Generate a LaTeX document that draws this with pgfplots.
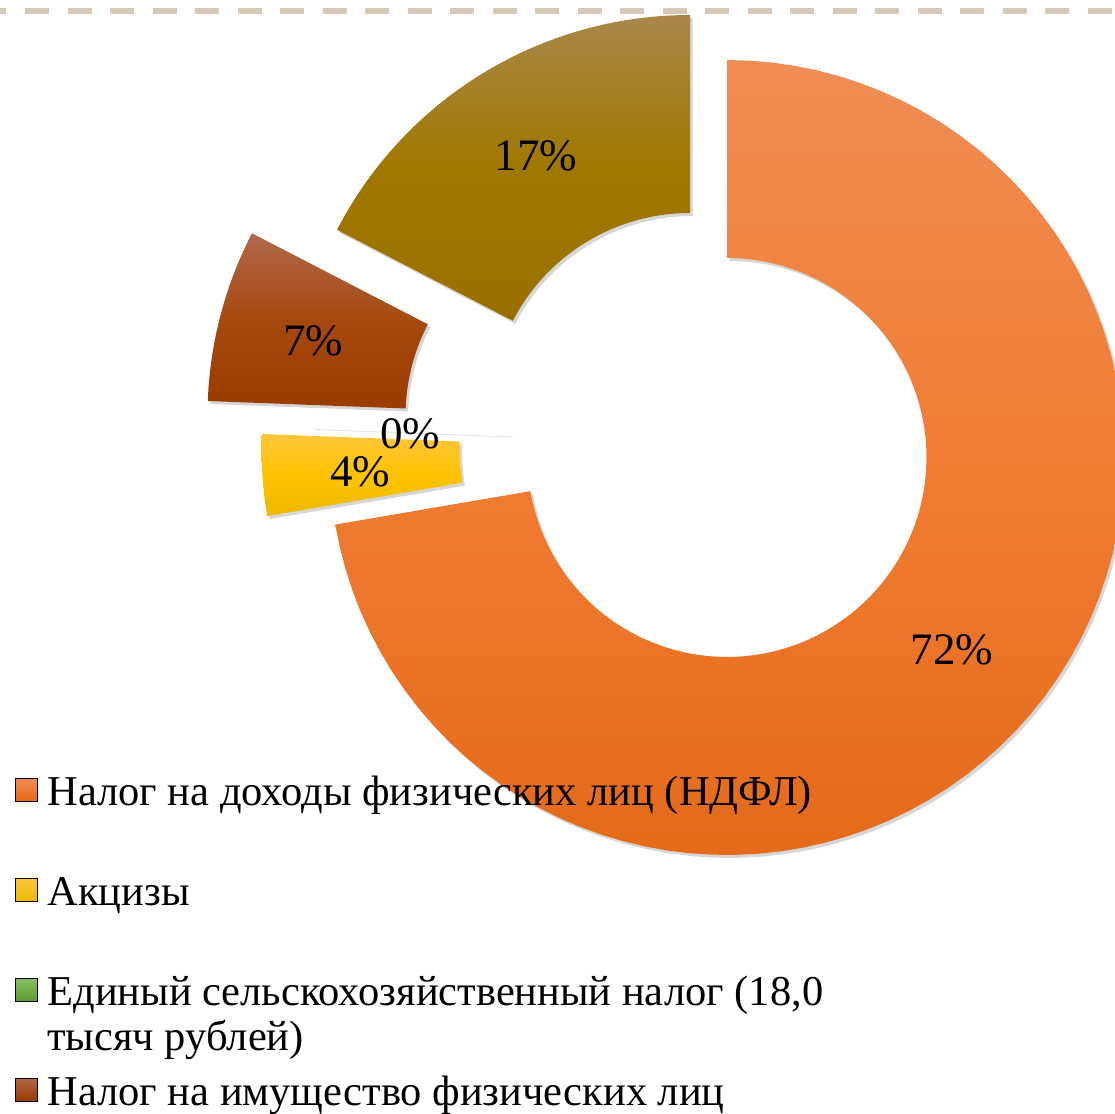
\documentclass[border=0pt]{standalone}
\usepackage{pgfplots}
\pgfplotsset{compat=1.18}
\usepackage{fontspec}
\setmainfont{Liberation Serif}
\newfontfamily\tnr{Liberation Serif}

\definecolor{ndA}{HTML}{F08C55}\definecolor{ndM}{HTML}{F07D33}\definecolor{ndB}{HTML}{E56A1A}
\definecolor{akA}{HTML}{FFC63C}\definecolor{akM}{HTML}{FDC300}\definecolor{akB}{HTML}{EDBA00}
\definecolor{imA}{HTML}{B1684C}\definecolor{imM}{HTML}{A6490F}\definecolor{imB}{HTML}{9A3B00}
\definecolor{zmA}{HTML}{A9874A}\definecolor{zmM}{HTML}{A07800}\definecolor{zmB}{HTML}{997000}
\definecolor{grA}{HTML}{8CC063}\definecolor{grB}{HTML}{5A9C2E}
\definecolor{zeroline}{HTML}{E3E9DC}
\definecolor{dashcol}{HTML}{D8C8B7}

\def\Ro{397.5}
\def\Ri{199.5}
% #1 vertex x, #2 vertex y, #3 cumulative start (%), #4 value (%), #5 style
\newcommand{\donutslice}[5]{%
  \addplot[forget plot, #5, domain=0:3, samples=241, variable=\t]
  ({#1 + ((\t<1) ? \Ro : ((\t<2) ? (\Ro-(\Ro-\Ri)*(\t-1)) : \Ri))*cos(90-3.6*((#3)+(#4)*((\t<1) ? \t : ((\t<2) ? 1 : (3-\t)))))},
   {#2 + ((\t<1) ? \Ro : ((\t<2) ? (\Ro-(\Ro-\Ri)*(\t-1)) : \Ri))*sin(90-3.6*((#3)+(#4)*((\t<1) ? \t : ((\t<2) ? 1 : (3-\t)))))});
}
\newcommand{\legsq}[2]{\addlegendimage{legend image code/.code={\path[top color=#1,bottom color=#2] (0pt,4pt) rectangle (22pt,27pt);}}}

\begin{document}
\tnr
\begin{tikzpicture}
\useasboundingbox (0,0) rectangle (1115pt,1113pt);
\clip (0,0) rectangle (1115pt,1113pt);
\begin{axis}[
  at={(0,0)}, anchor=south west,
  scale only axis, width=1115pt, height=1113pt,
  xmin=0, xmax=1115, ymin=0, ymax=1113,
  hide axis, clip=true,
  legend style={at={(axis cs:15,338)}, anchor=north west, draw=none, fill=none,
    inner sep=0pt, outer sep=0pt, row sep=0pt, column sep=10pt,
    font=\tnr\fontsize{42.5}{44}\selectfont,
    cells={anchor=base west},
    nodes={inner sep=0pt, outer sep=0pt, text height=30pt, text depth=70pt}},
]
% top dashed rule
\addplot[forget plot, color=dashcol, line width=5.5pt, dash pattern=on 24pt off 18.5pt]
  coordinates {(-17.5,1102) (1140,1102)};

% shadows
\donutslice{729.5}{652.5}{0}{72.3}{fill=black, fill opacity=0.16, draw=none}
\donutslice{661.5}{661}{72.3}{3.3}{fill=black, fill opacity=0.16, draw=none}
\donutslice{607.5}{694}{75.6}{7.0}{fill=black, fill opacity=0.16, draw=none}
\donutslice{692.5}{697.5}{82.6}{17.4}{fill=black, fill opacity=0.16, draw=none}

% slices: NDFL 72.3, excises 3.3, agricultural 0, property 7.0, 17.4
\donutslice{727}{655.5}{0}{72.3}{draw=none, top color=ndA, bottom color=ndB, middle color=ndM}
\donutslice{659}{664}{72.3}{3.3}{draw=none, top color=akA, bottom color=akB, middle color=akM}
\donutslice{712}{668.5}{75.6}{0}{draw=zeroline, line width=1pt}
\donutslice{605}{697}{75.6}{7.0}{draw=none, top color=imA, bottom color=imB, middle color=imM}
\donutslice{690}{700.5}{82.6}{17.4}{draw=none, top color=zmA, bottom color=zmB, middle color=zmM}

% data labels
\addplot[forget plot, only marks, mark=*, mark size=0pt, mark options={draw=none, fill=none},
  point meta=explicit symbolic, nodes near coords,
  nodes near coords style={anchor=center, inner sep=0pt, font=\tnr\fontsize{45}{45}\selectfont, text=black}]
  coordinates {(952,463) [72\%] (536,957) [17\%] (313,772) [7\%] (360,641) [4\%] (410,679) [0\%]};

% legend
\legsq{ndA}{ndB}
\addlegendentry{Налог на доходы физических лиц (НДФЛ)}
\legsq{akA}{akB}
\addlegendentry{Акцизы}
\legsq{grA}{grB}
\addlegendentry{\vtop{\baselineskip=45pt\hbox{Единый сельскохозяйственный налог (18,0}\hbox{тысяч рублей)}}}
\legsq{imA}{imB}
\addlegendentry{Налог на имущество физических лиц}
\end{axis}
\end{tikzpicture}
\end{document}
